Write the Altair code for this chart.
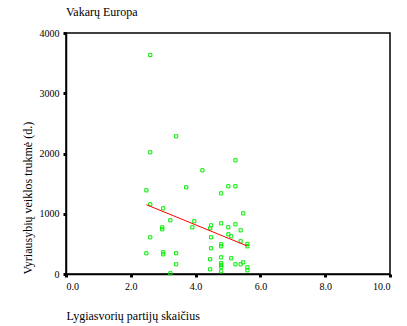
import altair as alt
import pandas as pd

# Lygiasvorių partijų skaičius (x) and Vyriausybių veiklos trukmė (y)
x_vals = [2.48, 2.60, 3.00, 3.22, 2.97, 2.97, 2.60, 2.48, 3.00, 3.00,
          3.40, 3.40, 3.22, 3.71, 4.21, 3.96, 3.90, 4.48, 4.45, 4.48,
          4.48, 4.45, 4.45, 4.79, 4.79, 4.79, 4.79, 4.79, 4.79, 4.79,
          4.79, 4.79, 5.01, 5.23, 5.23, 5.01, 5.23, 5.01, 5.10, 5.10,
          5.23, 5.47, 5.39, 5.39, 5.39, 5.47, 5.60, 5.60, 5.60, 5.60,
          2.60, 3.40, 2.60]
y_vals = [1389, 1157, 1090, 891, 775, 742, 609, 344, 360, 327,
          344, 161, 12, 1439, 1721, 875, 775, 808, 758, 609,
          427, 244, 78, 1339, 841, 493, 460, 277, 180, 150,
          120, 45, 1456, 1456, 1887, 775, 825, 659, 626, 261,
          161, 1007, 725, 543, 161, 194, 500, 460, 111, 61,
          3635, 2285, 2020]

df = pd.DataFrame({"x": x_vals, "y": y_vals})

x_ticks = [0, 2, 4, 6, 8, 10]
y_ticks = [0, 1000, 2000, 3000, 4000]

FONT = "Liberation Serif"

xs = alt.X("x:Q", scale=alt.Scale(domain=[0, 10], nice=False, zero=False),
           axis=alt.Axis(values=x_ticks, format=".1f", title="Lygiasvorių partijų skaičius",
                         titleAnchor="start", titleFontWeight="normal", titlePadding=19,
                         grid=False))
ys = alt.Y("y:Q", scale=alt.Scale(domain=[0, 4000], nice=False),
           axis=alt.Axis(values=y_ticks, format="d", title="Vyriausybių veiklos trukmė (d.)",
                         titleAnchor="start", titleFontWeight="normal", titlePadding=5,
                         grid=False))

points = alt.Chart(df).mark_point(shape="square", size=10, strokeWidth=1,
                                  color="#00ee00", filled=False, opacity=1).encode(x=xs, y=ys)

line = alt.Chart(df).transform_regression("x", "y").mark_line(
    color="#ff0000", strokeWidth=1).encode(x="x:Q", y="y:Q")

chart = alt.layer(points, line).properties(
    width=324, height=241,
    background="white",
    title=alt.TitleParams("Vakarų Europa", anchor="start", frame="group", font=FONT,
                          fontSize=12, fontWeight="normal", offset=9, color="black"),
    autosize=alt.AutoSizeParams(type="none"),
    padding={"left": 66, "top": 33, "right": 17, "bottom": 52},
).configure_view(stroke="black", strokeWidth=1.5).configure_axis(
    domainColor="black", domainWidth=1.5, tickColor="black", tickSize=3, tickWidth=3,
    labelFont=FONT, labelFontSize=10, labelColor="black", titleFont=FONT,
    titleFontSize=12, titleColor="black", labelPadding=4
)

chart.save("out.html", embed_options={"renderer": "svg", "actions": False})
